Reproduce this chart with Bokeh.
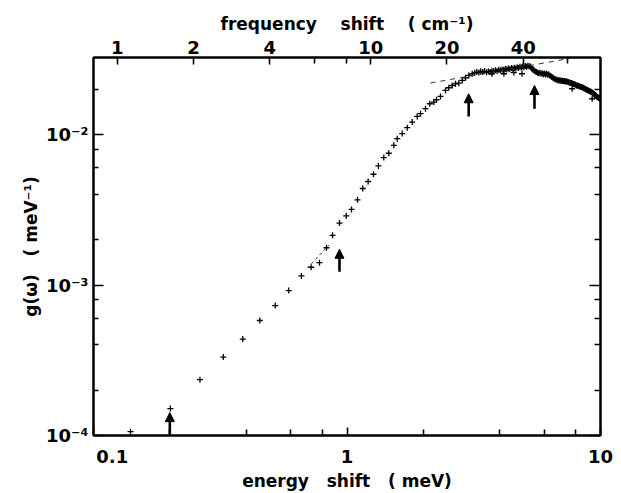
from bokeh.plotting import figure
from bokeh.models import Range1d, LogScale, LogAxis, FixedTicker, Arrow, NormalHead
from bokeh.embed import file_html
from bokeh.resources import INLINE

# conversion between the two energy units on the bottom / top axes
MEV_TO_CM = 8.0655

# --- g(omega) vs energy shift: sparse low-energy points ---
energy_low = [0.140, 0.201, 0.263, 0.325, 0.388, 0.453, 0.521, 0.589, 0.661, 0.722,
              0.779, 0.830, 0.877, 0.934, 0.993, 1.042, 1.100, 1.154, 1.212, 1.272,
              1.330, 1.397, 1.462, 1.530, 1.578, 1.651, 1.728, 1.808, 1.892, 1.950,
              2.040, 2.121, 2.200, 2.255, 2.338, 2.447, 2.521, 2.600, 2.679, 2.761,
              2.848, 2.934, 3.024, 3.118]
g_low = [1.06e-4, 1.51e-4, 2.35e-4, 3.32e-4, 4.37e-4, 5.81e-4, 7.30e-4, 9.18e-4, 1.149e-3, 1.312e-3,
         1.408e-3, 1.769e-3, 2.138e-3, 2.579e-3, 2.884e-3, 3.179e-3, 3.681e-3, 4.38e-3, 4.875e-3, 5.447e-3,
         6.183e-3, 7.03e-3, 7.51e-3, 8.48e-3, 9.39e-3, 1.014e-2, 1.111e-2, 1.210e-2, 1.320e-2, 1.376e-2,
         1.485e-2, 1.602e-2, 1.642e-2, 1.703e-2, 1.791e-2, 1.963e-2, 2.046e-2, 2.118e-2, 2.174e-2, 2.194e-2,
         2.287e-2, 2.384e-2, 2.469e-2, 2.534e-2]

# --- dense high-energy band ---
energy_band = [3.19, 3.25, 3.31, 3.37, 3.43, 3.49, 3.55, 3.61, 3.67, 3.73,
               3.79, 3.85, 3.91, 3.97, 4.03, 4.09, 4.15, 4.21, 4.27, 4.33,
               4.39, 4.45, 4.51, 4.57, 4.63, 4.69, 4.75, 4.81, 4.87, 4.93,
               4.99, 5.05, 5.11, 5.17, 5.23, 5.29, 5.35, 5.41, 5.47, 5.53,
               5.59, 5.65, 5.71, 5.77, 5.83, 5.89, 5.95, 6.01, 6.07, 6.13,
               6.19, 6.25, 6.31, 6.37, 6.43, 6.49, 6.55, 6.61, 6.67, 6.73,
               6.79, 6.85, 6.91, 6.97, 7.03, 7.09, 7.15, 7.21, 7.27, 7.33,
               7.39, 7.45, 7.51, 7.57, 7.63, 7.69, 7.75, 7.81, 7.87, 7.93,
               7.99, 8.05, 8.11, 8.17, 8.23, 8.29, 8.35, 8.41, 8.47, 8.53,
               8.59, 8.65, 8.71, 8.77, 8.83, 8.89, 8.95, 9.01, 9.07, 9.13,
               9.19, 9.25, 9.31, 9.37, 9.43, 9.49, 9.55, 9.61, 9.67, 9.73,
               9.79, 9.85, 9.91, 9.97]
g_band = [0.0257, 0.0260, 0.0258, 0.0263, 0.0260, 0.0264, 0.0259, 0.0262, 0.0260, 0.0265,
          0.0263, 0.0267, 0.0264, 0.0269, 0.0266, 0.0271, 0.0268, 0.0273, 0.0270, 0.0275,
          0.0272, 0.0277, 0.0274, 0.0278, 0.0275, 0.0280, 0.0277, 0.0282, 0.0279, 0.0283,
          0.0280, 0.0285, 0.0282, 0.0287, 0.0284, 0.0283, 0.0276, 0.0270, 0.0266, 0.0262,
          0.0260, 0.0257, 0.0255, 0.0257, 0.0253, 0.0255, 0.0252, 0.0254, 0.0251, 0.0253,
          0.0250, 0.0251, 0.0247, 0.0244, 0.0241, 0.0238, 0.0236, 0.0234, 0.0232, 0.0231,
          0.0229, 0.0230, 0.0228, 0.0229, 0.0227, 0.0228, 0.0226, 0.0227, 0.0225, 0.0226,
          0.0224, 0.0223, 0.0222, 0.0222, 0.0220, 0.0220, 0.0218, 0.0217, 0.0216, 0.0215,
          0.0214, 0.0212, 0.0211, 0.0211, 0.0209, 0.0209, 0.0207, 0.0207, 0.0205, 0.0205,
          0.0203, 0.0202, 0.0201, 0.0200, 0.0198, 0.0198, 0.0196, 0.0195, 0.0194, 0.0193,
          0.0192, 0.0191, 0.0189, 0.0188, 0.0186, 0.0184, 0.0182, 0.0180, 0.0178, 0.0177,
          0.0176, 0.0175, 0.0174, 0.0173]

# stray points lying just under the band
energy_stray = [3.73, 4.16, 4.55, 4.90, 7.73, 9.27]
g_stray = [0.02534, 0.02534, 0.0258, 0.02534, 0.02015, 0.01729]

# arrows marking features (energy, tail, tip)
arrow_energy = [0.200, 0.934, 3.02, 5.49]
arrow_tail = [1.02e-4, 1.227e-3, 1.320e-2, 1.485e-2]
arrow_tip = [1.42e-4, 1.727e-3, 1.866e-2, 2.118e-2]

# dashed guide lines
guide_hi_energy = [2.135, 7.615]
guide_hi_g = [2.20e-2, 3.21e-2]
guide_lo_energy = [0.697, 0.848]
guide_lo_g = [1.292e-3, 1.844e-3]

SP = "\u00a0"

# axis ticks and their labels
x_major = [0.1, 1, 10]
x_minor = [0.2, 0.4, 0.6, 0.8, 2, 4, 6, 8]
x_labels = [SP * 6 + "0.1", "1", "10"]   # first label sits clear of the corner
top_major = [1, 2, 4, 10, 20, 40]
top_minor = [6, 8, 60]
top_labels = ["1", "2", "4", "10", "20", "40"]
y_major = [1e-4, 1e-3, 1e-2]
y_minor = [2e-4, 4e-4, 6e-4, 8e-4, 2e-3, 4e-3, 6e-3, 8e-3, 2e-2]
y_labels = ["10\u207b\u2074", "10\u207b\u00b3", "10\u207b\u00b2"]

bottom_title = "energy" + SP * 3 + "shift" + SP * 3 + "(" + SP + "meV)"
top_title = "frequency" + SP * 4 + "shift" + SP * 4 + "(" + SP + "cm\u207b\u00b9)"
left_title = "g(\u03c9)" + SP * 3 + "(" + SP + "meV\u207b\u00b9)"

X0, X1 = 0.1, 10.0
Y0, Y1 = 1e-4, 0.0325
FONT = "DejaVu Sans"

p = figure(width=621, height=493, x_axis_type="log", y_axis_type="log",
           x_range=Range1d(X0, X1), y_range=Range1d(Y0, Y1),
           output_backend="svg", toolbar_location=None,
           min_border_left=93, min_border_right=21, min_border_top=57, min_border_bottom=57)
p.xgrid.visible = False
p.ygrid.visible = False
p.background_fill_color = "white"
p.border_fill_color = "white"
p.outline_line_color = "black"
p.outline_line_width = 2

p.extra_x_ranges = {"freq": Range1d(X0 * MEV_TO_CM, X1 * MEV_TO_CM)}
p.extra_x_scales = {"freq": LogScale()}

bottom_axis = p.below[0]
left_axis = p.left[0]
top_axis = LogAxis(x_range_name="freq")
right_axis = LogAxis()
p.add_layout(top_axis, "above")
p.add_layout(right_axis, "right")

bottom_axis.ticker = FixedTicker(ticks=x_major, minor_ticks=x_minor)
bottom_axis.major_label_overrides = dict(zip(x_major, x_labels))
top_axis.ticker = FixedTicker(ticks=top_major, minor_ticks=top_minor)
top_axis.major_label_overrides = dict(zip(top_major, top_labels))
left_axis.ticker = FixedTicker(ticks=y_major, minor_ticks=y_minor)
left_axis.major_label_overrides = dict(zip(y_major, y_labels))
right_axis.ticker = FixedTicker(ticks=y_major, minor_ticks=y_minor)
right_axis.major_label_overrides = {t: "" for t in y_major}

for ax, major_len, minor_len in [(bottom_axis, 8, 6), (top_axis, 7, 6),
                                 (left_axis, 10, 5), (right_axis, 11, 6)]:
    ax.axis_line_color = "black"
    ax.axis_line_width = 2
    ax.major_tick_in = major_len
    ax.major_tick_out = 0
    ax.minor_tick_in = minor_len
    ax.minor_tick_out = 0
    ax.major_tick_line_width = 1.6
    ax.minor_tick_line_width = 1.6
    ax.major_tick_line_color = "black"
    ax.minor_tick_line_color = "black"
    ax.major_label_text_font = FONT
    ax.major_label_text_font_style = "bold"
    ax.major_label_text_font_size = "18px"
    ax.major_label_text_color = "black"
    ax.axis_label_text_font = FONT
    ax.axis_label_text_font_style = "bold"
    ax.axis_label_text_font_size = "17px"
    ax.axis_label_text_color = "black"

bottom_axis.major_label_standoff = 10
bottom_axis.axis_label = bottom_title
bottom_axis.axis_label_standoff = 1
top_axis.major_label_standoff = 4
top_axis.axis_label = top_title
top_axis.axis_label_standoff = 4
left_axis.major_label_standoff = 5
left_axis.axis_label = left_title
left_axis.axis_label_standoff = 2
right_axis.major_label_standoff = 0

# data points
p.scatter(energy_low, g_low, marker="cross", size=6, line_color="black", line_width=1.3)
p.scatter(energy_band, g_band, marker="cross", size=6, line_color="black", line_width=1.3)
p.scatter(energy_stray, g_stray, marker="cross", size=6, line_color="black", line_width=1.3)

# dashed guides
p.line(guide_hi_energy, guide_hi_g, line_dash="5 5", line_width=1, line_color="#333333")
p.line(guide_lo_energy, guide_lo_g, line_dash="3 3", line_width=1, line_color="#333333")

# arrows
for e, t0, t1 in zip(arrow_energy, arrow_tail, arrow_tip):
    p.add_layout(Arrow(end=NormalHead(size=9, fill_color="black", line_color="black", line_width=1),
                       x_start=e, y_start=t0, x_end=e, y_end=t1,
                       line_width=2.6, line_color="black"))

open("out.html", "w").write(file_html(p, INLINE))
